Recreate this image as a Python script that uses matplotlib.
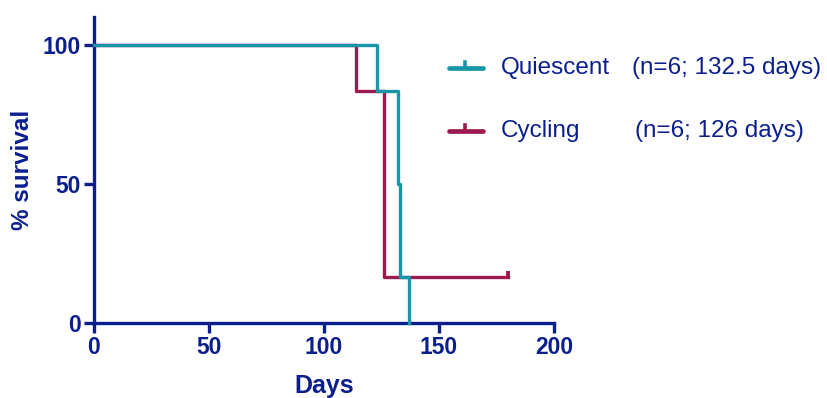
import matplotlib
matplotlib.use("Agg")
import matplotlib.pyplot as plt
from matplotlib.lines import Line2D
from matplotlib.path import Path

plt.rcParams['font.family'] = ['Liberation Sans', 'DejaVu Sans']

# Data
q_times = [0, 123, 132, 133, 137]
q_surv = [100, 83.33, 50, 16.67, 0]
c_times = [0, 114, 126, 180]
c_surv = [100, 83.33, 16.67, 16.67]
c_censor_t = [180]
c_censor_s = [16.67]
labels = ["Quiescent", "Cycling"]
label_notes = ["(n=6; 132.5 days)", "(n=6; 126 days)"]
xticks = [0, 50, 100, 150, 200]
yticks = [0, 50, 100]

navy = "#0B1E8E"
teal = "#1896A8"
maroon = "#9B1A50"

W, H = 827, 398
fig = plt.figure(figsize=(W / 100, H / 100), dpi=100)
ax = fig.add_axes([94 / W, 1 - 323 / H, 460 / W, (323 - 17) / H])

up_tick = Path([(0, 0), (0, 1)], [Path.MOVETO, Path.LINETO])

ax.step(c_times, c_surv, where='post', color=maroon, lw=2.4, clip_on=False, zorder=3)
ax.plot(c_censor_t, c_censor_s, marker=up_tick, color=maroon, markersize=8, mew=2.8,
        linestyle='none', clip_on=False, zorder=3)
ax.step(q_times, q_surv, where='post', color=teal, lw=2.4, clip_on=False, zorder=4)

ax.set_xlim(0, 200)
ax.set_ylim(0, 110)
ax.set_xticks(xticks)
ax.set_yticks(yticks)
for s in ['top', 'right']:
    ax.spines[s].set_visible(False)
for s in ['left', 'bottom']:
    ax.spines[s].set_color(navy)
    ax.spines[s].set_linewidth(2.4)
ax.tick_params(axis='both', colors=navy, width=2.4, length=7.5, labelsize=16.5, pad=2)
for lab in ax.get_xticklabels() + ax.get_yticklabels():
    lab.set_fontweight('bold')
ax.set_xlabel("Days", fontsize=18, fontweight='bold', color=navy, labelpad=11)
ax.set_ylabel("% survival", fontsize=17.5, fontweight='bold', color=navy, labelpad=6)

# Legend (manual)
leg_y = [1 - 68 / H, 1 - 131 / H]
cols = [teal, maroon]
for yy, col, lab in zip(leg_y, cols, labels):
    fig.add_artist(Line2D([449 / W, 483 / W], [yy, yy], color=col, lw=3.4,
                          solid_capstyle='round', transform=fig.transFigure))
    fig.add_artist(Line2D([465 / W, 465 / W], [yy, yy + 6 / H], color=col, lw=2.6,
                          transform=fig.transFigure))
    fig.text(501 / W, yy, lab, fontsize=17.5, color=navy, va='center', ha='left')
fig.text(632 / W, leg_y[0], label_notes[0], fontsize=17.5, color=navy, va='center', ha='left')
fig.text(635 / W, leg_y[1], label_notes[1], fontsize=17.5, color=navy, va='center', ha='left')

fig.savefig("out.png", dpi=100)
